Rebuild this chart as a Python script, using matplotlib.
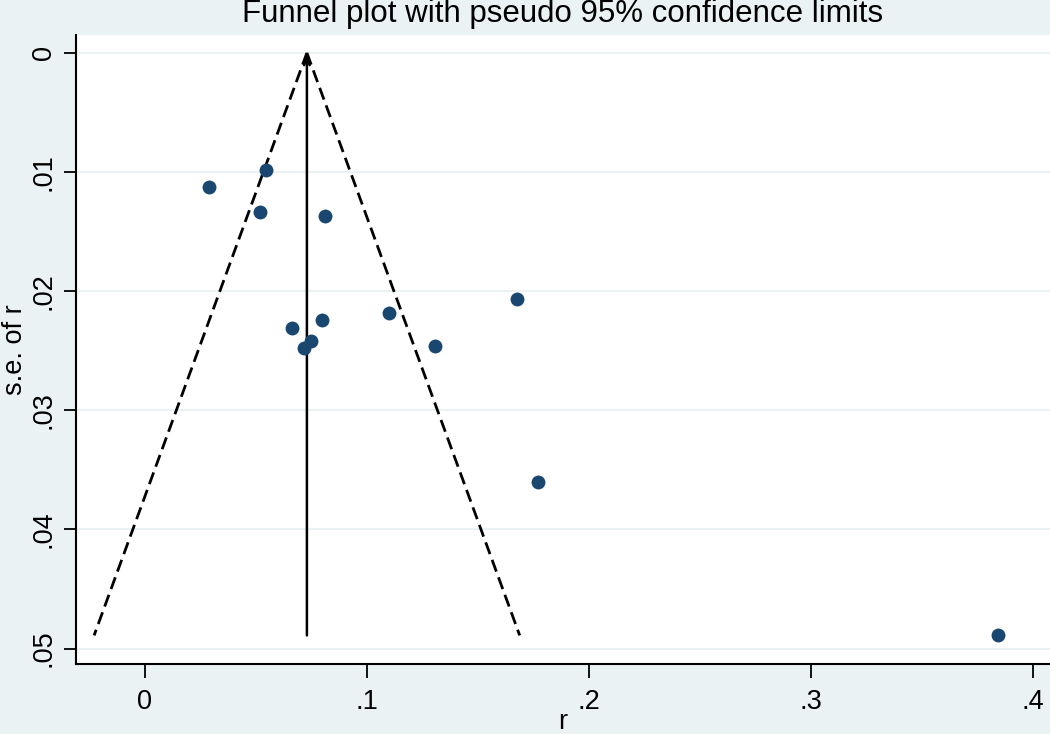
import matplotlib
matplotlib.use("Agg")
import matplotlib.pyplot as plt
import numpy as np

# Data
r_values = [0.0288, 0.0545, 0.0518, 0.0811, 0.0662, 0.0797, 0.0748, 0.0716,
            0.1099, 0.1306, 0.1676, 0.1770, 0.3842]
se_values = [0.01126, 0.00983, 0.01336, 0.0137, 0.0231, 0.02244, 0.0242, 0.0248,
             0.02185, 0.0246, 0.02067, 0.03605, 0.0489]
pooled_r = 0.0730
x_ticks = [0, 0.1, 0.2, 0.3, 0.4]
x_ticklabels = ["0", ".1", ".2", ".3", ".4"]
y_ticks = [0, 0.01, 0.02, 0.03, 0.04, 0.05]
y_ticklabels = ["0", ".01", ".02", ".03", ".04", ".05"]

BG = "#EAF2F3"
NAVY = "#1A476F"

plt.rcParams['font.family'] = ['Liberation Sans', 'DejaVu Sans']

fig = plt.figure(figsize=(10.5, 7.34), dpi=100, facecolor=BG)
ax = fig.add_axes([76/1050, 1-664/734, 1-76/1050, (664-35)/734])
ax.set_facecolor("white")

se_max = max(se_values)
se_line = np.array([0.0, se_max])
ax.plot(pooled_r - 1.96*se_line, se_line, color="black", lw=2.0, ls=(0, (4.5, 2.2)))
ax.plot(pooled_r + 1.96*se_line, se_line, color="black", lw=2.0, ls=(0, (4.5, 2.2)))
ax.annotate("", xy=(pooled_r, 0), xytext=(pooled_r, se_max),
            arrowprops=dict(arrowstyle="->,head_length=0.6,head_width=0.2",
                            color="black", lw=1.8, shrinkA=0, shrinkB=0))

ax.scatter(r_values, se_values, s=100, color=NAVY, zorder=3, linewidths=0)

ax.set_xlim(-0.031, 0.4077)
ax.set_ylim(0.0513, -0.0015)
ax.set_xticks(x_ticks)
ax.set_xticklabels(x_ticklabels)
ax.set_yticks(y_ticks)
ax.set_yticklabels(y_ticklabels, rotation=90, va="center")
ax.grid(axis="y", color=BG, lw=1.5)
ax.set_axisbelow(True)
for s in ["top", "right"]:
    ax.spines[s].set_visible(False)
for s in ["left", "bottom"]:
    ax.spines[s].set_linewidth(1.5)
ax.tick_params(axis="x", length=10, width=1.3, labelsize=19.5, pad=8)
ax.tick_params(axis="y", length=9, width=1.3, labelsize=19.5, pad=5)

ax.set_xlabel("r", fontsize=19.5, labelpad=-4)
ax.set_ylabel("s.e. of r", fontsize=19.5, labelpad=2)

fig.text(0.536, 1 - 22/734, "Funnel plot with pseudo 95% confidence limits",
         ha="center", va="baseline", fontsize=22.5)

fig.savefig("out.png", dpi=100, facecolor=BG)
